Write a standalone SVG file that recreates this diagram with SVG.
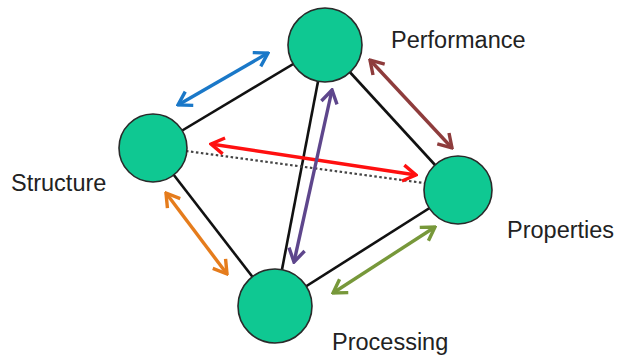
<svg xmlns="http://www.w3.org/2000/svg" width="622" height="356" viewBox="0 0 622 356">
<style>
.node{fill:#0fc892;stroke:#2a2a2a;stroke-width:1.6}
.edge{stroke:#111;stroke-width:2.6;fill:none}
.dot{stroke:#444;stroke-width:2.2;stroke-dasharray:2.5 2.5;fill:none}
.arr{stroke-width:3.4;fill:none}
.lbl{font-family:"Liberation Sans",Arial,sans-serif;font-size:23.5px;fill:#222}
</style>
<defs>
<marker id="mb" viewBox="-17 -10 19 20" refX="0" refY="0" markerWidth="19" markerHeight="20" markerUnits="userSpaceOnUse" orient="auto-start-reverse"><path d="M-13,-8 L0,0 L-13,8" fill="none" stroke="#1a78c8" stroke-width="3.4"/></marker>
<marker id="mr" viewBox="-17 -10 19 20" refX="0" refY="0" markerWidth="19" markerHeight="20" markerUnits="userSpaceOnUse" orient="auto-start-reverse"><path d="M-13,-8 L0,0 L-13,8" fill="none" stroke="#ff1010" stroke-width="3.4"/></marker>
<marker id="mp" viewBox="-17 -10 19 20" refX="0" refY="0" markerWidth="19" markerHeight="20" markerUnits="userSpaceOnUse" orient="auto-start-reverse"><path d="M-13,-8 L0,0 L-13,8" fill="none" stroke="#5e468c" stroke-width="3.4"/></marker>
<marker id="mw" viewBox="-17 -10 19 20" refX="0" refY="0" markerWidth="19" markerHeight="20" markerUnits="userSpaceOnUse" orient="auto-start-reverse"><path d="M-13,-8 L0,0 L-13,8" fill="none" stroke="#8e3c3c" stroke-width="3.4"/></marker>
<marker id="mo" viewBox="-17 -10 19 20" refX="0" refY="0" markerWidth="19" markerHeight="20" markerUnits="userSpaceOnUse" orient="auto-start-reverse"><path d="M-13,-8 L0,0 L-13,8" fill="none" stroke="#e57c1c" stroke-width="3.4"/></marker>
<marker id="mg" viewBox="-17 -10 19 20" refX="0" refY="0" markerWidth="19" markerHeight="20" markerUnits="userSpaceOnUse" orient="auto-start-reverse"><path d="M-13,-8 L0,0 L-13,8" fill="none" stroke="#77983a" stroke-width="3.4"/></marker>
</defs>
<g id="connectors">
<line class="edge" x1="325" y1="45" x2="153" y2="148"/>
<line class="edge" x1="325" y1="45" x2="275" y2="306"/>
<line class="edge" x1="325" y1="45" x2="458" y2="190"/>
<line class="edge" x1="153" y1="148" x2="275" y2="306"/>
<line class="edge" x1="275" y1="306" x2="458" y2="190"/>
<line class="dot" x1="186" y1="151" x2="424" y2="183"/>
<line class="arr" stroke="#1a78c8" x1="178" y1="105" x2="268" y2="53" marker-start="url(#mb)" marker-end="url(#mb)"/>
<line class="arr" stroke="#ff1010" x1="211" y1="144" x2="416" y2="175" marker-start="url(#mr)" marker-end="url(#mr)"/>
<line class="arr" stroke="#5e468c" x1="332" y1="90" x2="294" y2="262" marker-start="url(#mp)" marker-end="url(#mp)"/>
<line class="arr" stroke="#8e3c3c" x1="370" y1="60" x2="452" y2="148" marker-start="url(#mw)" marker-end="url(#mw)"/>
<line class="arr" stroke="#e57c1c" x1="166" y1="193" x2="227" y2="274" marker-start="url(#mo)" marker-end="url(#mo)"/>
<line class="arr" stroke="#77983a" x1="333" y1="293" x2="435" y2="227" marker-start="url(#mg)" marker-end="url(#mg)"/>
</g>
<g id="performance"><circle class="node" cx="325" cy="45" r="37"/><text class="lbl" x="391" y="48">Performance</text></g>
<g id="structure"><circle class="node" cx="153" cy="148" r="34"/><text class="lbl" x="11" y="191">Structure</text></g>
<g id="properties"><circle class="node" cx="458" cy="190" r="34"/><text class="lbl" x="507" y="238">Properties</text></g>
<g id="processing"><circle class="node" cx="275" cy="306" r="37"/><text class="lbl" x="332" y="350">Processing</text></g>
</svg>
